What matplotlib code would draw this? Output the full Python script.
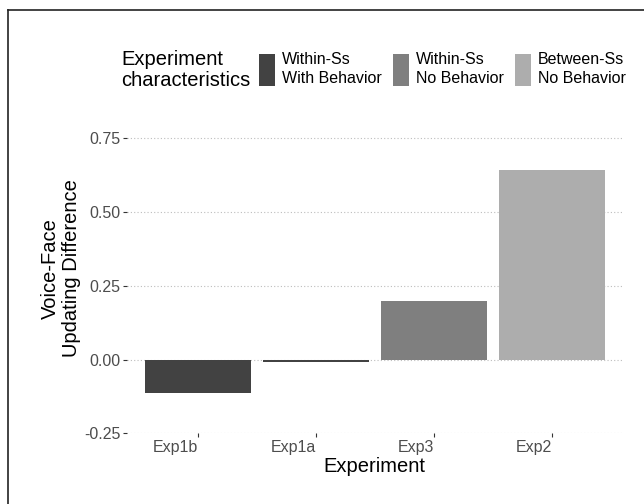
import matplotlib
matplotlib.use('Agg')
import matplotlib.pyplot as plt
from matplotlib.patches import Patch
from matplotlib.lines import Line2D

plt.rcParams['font.family'] = ['Liberation Sans', 'DejaVu Sans']

# data
experiments = ['Exp1b', 'Exp1a', 'Exp3', 'Exp2']
diffs = [-0.113, -0.008, 0.198, 0.642]
groups = ['Within-Ss\nWith Behavior', 'Within-Ss\nWith Behavior',
          'Within-Ss\nNo Behavior', 'Between-Ss\nNo Behavior']
group_order = ['Within-Ss\nWith Behavior', 'Within-Ss\nNo Behavior',
               'Between-Ss\nNo Behavior']
group_colors = {'Within-Ss\nWith Behavior': '#424242',
                'Within-Ss\nNo Behavior': '#7f7f7f',
                'Between-Ss\nNo Behavior': '#adadad'}
yticks = [-0.25, 0.0, 0.25, 0.5, 0.75]
ytick_labels = ['-0.25', '0.00', '0.25', '0.50', '0.75']

fig = plt.figure(figsize=(6.44, 5.04), dpi=100)
ax = fig.add_axes([0.197, 0.140, 0.770, 0.656])

x = list(range(len(experiments)))
ax.bar(x, diffs, width=0.9, color=[group_colors[g] for g in groups], zorder=2)

ax.set_xlim(-0.6, len(experiments) - 0.4)
ax.set_ylim(-0.25, 0.87)
ax.set_yticks(yticks)
ax.set_yticklabels(ytick_labels)
ax.set_xticks(x)
ax.set_xticklabels(experiments, ha='right')

ax.grid(axis='y', linestyle=(0, (1, 2)), color='#bdbdbd', linewidth=0.8, zorder=0)
ax.grid(axis='x', visible=False)
for s in ax.spines.values():
    s.set_visible(False)
ax.tick_params(axis='both', length=3, width=0.8, color='#333333',
               labelsize=11.5, labelcolor='#4d4d4d', pad=1.5)

ax.set_xlabel('Experiment', fontsize=14.5, labelpad=2)
ax.set_ylabel('Voice-Face\nUpdating Difference', fontsize=14.5, linespacing=1.15)
ax.yaxis.set_label_coords(-0.092, 0.5)

# legend
handles = [Patch(facecolor=group_colors[g], edgecolor='none') for g in group_order]
leg = fig.legend(handles, group_order, loc='upper left', ncol=3,
                 bbox_to_anchor=(259 / 644, 1 - 52 / 504), frameon=False,
                 fontsize=11.5, handlelength=1.0, handleheight=2.62,
                 handletextpad=0.45, columnspacing=0.69, borderpad=0,
                 borderaxespad=0, labelspacing=0)
for t in leg.get_texts():
    t.set_linespacing(1.3)
fig.text(121 / 644, 1 - 70 / 504, 'Experiment\ncharacteristics',
         fontsize=14.5, va='center', ha='left', linespacing=1.1)

# frame lines on left and top
fig.add_artist(Line2D([8 / 644, 8 / 644], [0, 1 - 10 / 504], color='#222222', lw=1.2))
fig.add_artist(Line2D([8 / 644, 1], [1 - 10 / 504, 1 - 10 / 504], color='#222222', lw=1.2))

fig.savefig('out.png', dpi=100)
